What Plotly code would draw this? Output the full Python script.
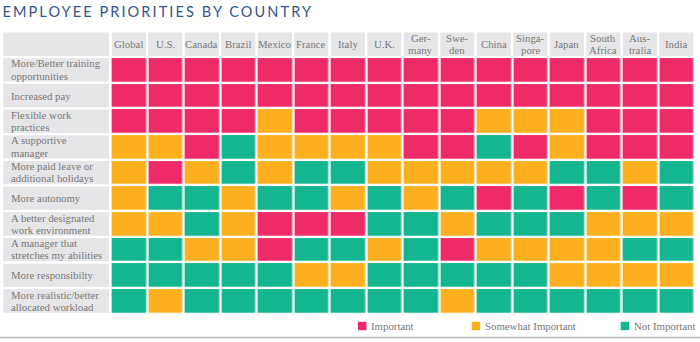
import plotly.graph_objects as go

title = "EMPLOYEE PRIORITIES BY COUNTRY"
countries = ["Global", "U.S.", "Canada", "Brazil", "Mexico", "France", "Italy", "U.K.",
             "Germany", "Sweden", "China", "Singapore", "Japan", "South Africa", "Australia", "India"]
country_labels = [["Global"], ["U.S."], ["Canada"], ["Brazil"], ["Mexico"], ["France"], ["Italy"], ["U.K."],
                  ["Ger-", "many"], ["Swe-", "den"], ["China"], ["Singa-", "pore"], ["Japan"],
                  ["South", "Africa"], ["Aus-", "tralia"], ["India"]]
priorities = ["More/Better training opportunities", "Increased pay", "Flexible work practices",
              "A supportive manager", "More paid leave or additional holidays", "More autonomy",
              "A better designated work environment", "A manager that stretches my abilities",
              "More responsibilty", "More realistic/better allocated workload"]
priority_labels = [["More/Better training", "opportunities"], ["Increased pay"],
                   ["Flexible work", "practices"], ["A supportive", "manager"],
                   ["More paid leave or", "additional holidays"], ["More autonomy"],
                   ["A better designated", "work environment"], ["A manager that", "stretches my abilities"],
                   ["More responsibilty"], ["More realistic/better", "allocated workload"]]
levels = ["Important", "Somewhat Important", "Not Important"]
# I = Important, S = Somewhat Important, N = Not Important (columns follow `countries`)
ratings = [
    "IIIIIIIIIIIIIIII",
    "IIIIIIIIIIIIIIII",
    "IIIISIIIIISSSIII",
    "SSINSSSSIINISIII",
    "SISNSNNSSSSSNNSN",
    "SNNSNNSNSNINININ",
    "SSNSIIINNSNNNSSS",
    "NNSSINNSNISSSSNN",
    "NNNNNSSNNNNNSSSS",
    "NSNNNNNNNSNNNNNN",
]
code = {"I": 0, "S": 1, "N": 2}
z = [[code[c] for c in row] for row in ratings]

PINK, ORANGE, GREEN = "#ee2a68", "#fdb01f", "#14b690"
GREY_BG = "#e6e6e8"
TXT = "#787878"
FONT = "Liberation Serif"
FS = 10.8

fig = go.Figure()
fig.add_trace(go.Heatmap(
    z=z, x=list(range(len(countries))), y=list(range(len(priorities))),
    colorscale=[[0, PINK], [0.5, ORANGE], [1, GREEN]], zmin=0, zmax=2,
    showscale=False, xgap=2.4, ygap=2.3,
    customdata=[[levels[v] for v in row] for row in z],
    hovertemplate="%{customdata}<extra></extra>",
))

PX_X = 36.5   # pixels per column
PX_Y = 25.68  # pixels per row
gx = 1.2 / PX_X
gy = 1.15 / PX_Y
half_h = 0.5 - gy
LINE = 12.1   # pixel spacing of two-line labels
SHIFT = -0.4  # small upward nudge of two-line labels

shapes = []
annotations = []


def line_annots(lines, x, y, xanchor):
    out = []
    if len(lines) == 1:
        offs = [0.0]
    else:
        offs = [(-LINE / 2 + SHIFT) / PX_Y, (LINE / 2 + SHIFT) / PX_Y]
    for t, o in zip(lines, offs):
        out.append(dict(x=x, y=y + o, xref="x", yref="y", text=t, showarrow=False,
                        xanchor=xanchor, yanchor="middle",
                        font=dict(family=FONT, size=FS, color=TXT)))
    return out


# title (letter-spaced via CSS below)
annotations.append(dict(x=158 / 700, y=1 - 11 / 342, xref="paper", yref="paper", text=title,
                        showarrow=False, xanchor="center", yanchor="middle",
                        font=dict(family="Lato", size=14.5, color="#34558a")))

# header cells
for i, lab in enumerate(country_labels):
    shapes.append(dict(type="rect", xref="x", yref="y", x0=i - 0.5 + gx, x1=i + 0.5 - gx,
                       y0=-1 - half_h, y1=-1 + half_h, fillcolor=GREY_BG, line_width=0, layer="below"))
    annotations += line_annots(lab, i, -1, "center")
# header corner cell
lab_x0 = (3.3 - 128.85) / PX_X
lab_x1 = (109.0 - 128.85) / PX_X
shapes.append(dict(type="rect", xref="x", yref="y", x0=lab_x0, x1=lab_x1,
                   y0=-1 - half_h, y1=-1 + half_h, fillcolor=GREY_BG, line_width=0, layer="below"))
# row label cells
text_x = (8.5 - 128.85) / PX_X
for j, lab in enumerate(priority_labels):
    shapes.append(dict(type="rect", xref="x", yref="y", x0=lab_x0, x1=lab_x1,
                       y0=j - half_h, y1=j + half_h, fillcolor=GREY_BG, line_width=0, layer="below"))
    annotations += line_annots(lab, text_x, j, "left")

# legend
legend_x = [358.0, 471.7, 620.7]
legend_cols = [PINK, ORANGE, GREEN]
ly = 326.0
for lx, col, name in zip(legend_x, legend_cols, levels):
    shapes.append(dict(type="rect", xref="paper", yref="paper",
                       x0=lx / 700, x1=(lx + 8.5) / 700,
                       y0=1 - (ly + 4.2) / 342, y1=1 - (ly - 4.2) / 342,
                       fillcolor=col, line_width=0))
    annotations.append(dict(x=(lx + 11.5) / 700, y=1 - ly / 342, xref="paper", yref="paper",
                            text=name, showarrow=False, xanchor="left", yanchor="middle",
                            font=dict(family=FONT, size=FS, color=TXT)))
# bottom rule
shapes.append(dict(type="line", xref="paper", yref="paper", x0=0, x1=1,
                   y0=1 - 337.5 / 342, y1=1 - 337.5 / 342, line=dict(color="#b8b8b8", width=1.5)))

fig.update_layout(
    width=700, height=342,
    margin=dict(l=0, r=0, t=0, b=0),
    paper_bgcolor="white", plot_bgcolor="white",
    xaxis=dict(range=[-128.85 / PX_X, (700 - 128.85) / PX_X], visible=False, fixedrange=True),
    yaxis=dict(range=[-1 + (342 - 44.2) / PX_Y, -1 - 44.2 / PX_Y], visible=False, fixedrange=True),
    shapes=shapes, annotations=annotations, showlegend=False,
)

post = """
var s = document.createElement('style');
s.textContent = 'g.annotation[data-index="0"] text { letter-spacing: 2.1px; }';
document.head.appendChild(s);
"""
fig.write_html("out.html", post_script=post, config={"displayModeBar": False})
